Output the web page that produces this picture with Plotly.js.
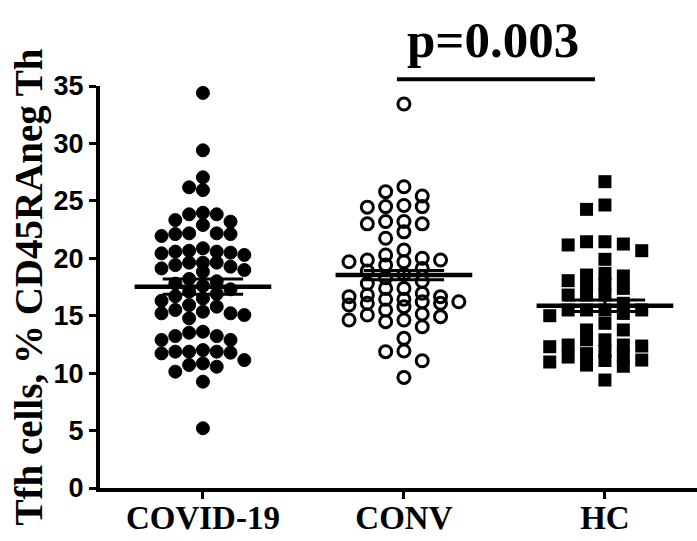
<!DOCTYPE html>
<html>
<head>
<meta charset="utf-8">
<script src="https://cdn.plot.ly/plotly-3.0.1.min.js"></script>
<style>html,body{margin:0;padding:0;background:#fff;}#chart{width:697px;height:541px;}</style>
</head>
<body>
<div id="chart"></div>
<script>
// ---- data ----
const categories = ['COVID-19', 'CONV', 'HC'];
const covidValues = [34.4, 29.4, 27.05, 26.18, 25.94,
  23.83, 23.33, 23.19, 23.83, 23.97, 22.9,
  22.17, 22.11, 21.94, 22.11, 22.17,
  20.66, 20.49, 20.43, 20.29, 20.58, 20.58, 20.87,
  19.62, 19.27, 19.62, 19.62, 19.41,
  19.12, 18.83, 18.98,
  18.2, 18.0, 17.8, 17.6, 17.3, 17.1, 16.9, 16.7, 16.5, 16.3,
  15.93, 15.79, 15.5, 15.35, 15.21, 15.21, 15.06, 14.77,
  13.61, 13.52, 13.23, 13.23, 12.89, 12.89,
  11.87, 11.87, 11.87, 12.01, 11.78, 11.72, 11.14,
  10.85, 10.71, 10.56, 10.13, 9.26, 5.2];
const convValues = [33.43, 26.23, 25.8, 25.42, 24.6, 24.5, 24.5, 24.45,
  23.2, 23.0, 23.0, 23.2, 22.3, 21.74, 20.72, 20.29, 20.0, 19.85, 19.85,
  19.7, 19.7, 19.41, 19.12, 18.9, 18.6, 18.3, 18.0, 17.8, 17.38, 17.38,
  16.95, 16.8, 16.66, 16.66, 16.43, 16.43, 16.22, 16.22, 16.08, 16.08,
  15.93, 15.79, 15.5, 15.15, 15.06, 14.92, 14.63, 14.63, 14.48, 14.04,
  13.03, 11.93, 11.87, 11.08, 9.63];
const hcValues = [26.67, 24.64, 24.26, 21.44, 21.24, 20.66, 21.16, 21.44,
  19.91, 18.05, 17.59, 18.46, 18.54, 18.69, 17.38, 17.76, 16.08,
  16.8, 16.8, 16.8, 15.5, 15.5, 15.5, 15.5, 15.0, 15.2, 14.34,
  13.76, 13.76, 12.45, 12.3, 12.36, 12.9, 11.7, 11.1, 11.4, 10.6,
  12.9, 12.45, 11.14, 11.5, 10.7, 11.9, 10.97, 9.4];
const groupMeans = [17.53, 18.54, 15.87];
const groupSems = [0.66, 0.4, 0.5];
const yTickVals = [0, 5, 10, 15, 20, 25, 30, 35];
const pValueText = 'p=0.003';

// ---- layout constants ----
const W = 697, H = 541;
const M = {l: 100, r: 0, t: 86, b: 53};
const xRange = [-0.512, 2.458];
const yRange = [0, 35];
const plotW = W - M.l - M.r, plotH = H - M.t - M.b;
const pxPerX = plotW / (xRange[1] - xRange[0]);
const pxPerY = plotH / (yRange[1] - yRange[0]);

// column-scatter layout (GraphPad-like), computed from the values
function swarm(vals, center, colPx, thrPx, maxCol) {
  const order = vals.map((v, i) => i).sort((a, b) => vals[b] - vals[a]);
  const cols = {};
  const xs = new Array(vals.length);
  for (const i of order) {
    const ypx = vals[i] * pxPerY;
    let best = null, bestGap = -1;
    for (let k = 0; k <= 2 * maxCol; k++) {
      const c = k === 0 ? 0 : (k % 2 ? -Math.ceil(k / 2) : Math.ceil(k / 2));
      const list = cols[c] || [];
      const gap = list.length ? Math.min(...list.map(y => Math.abs(y - ypx))) : Infinity;
      if (gap >= thrPx) { best = c; break; }
      if (gap > bestGap) { bestGap = gap; best = c; }
    }
    (cols[best] || (cols[best] = [])).push(ypx);
    xs[i] = center + best * colPx / pxPerX;
  }
  return xs;
}

const groups = [
  {vals: covidValues, symbol: 'circle', size: 13, line: 1, colPx: 13.8, thr: 12, maxCol: 3},
  {vals: convValues, symbol: 'circle-open', size: 12, line: 3, colPx: 18.3, thr: 10, maxCol: 3},
  {vals: hcValues, symbol: 'square', size: 13, line: 0, colPx: 18.4, thr: 9, maxCol: 3}
];

const traces = [];
groups.forEach((g, gi) => {
  traces.push({
    type: 'scatter', mode: 'markers',
    x: swarm(g.vals, gi, g.colPx, g.thr, g.maxCol), y: g.vals,
    marker: {symbol: g.symbol, size: g.size, color: '#000',
             line: {color: '#000', width: g.line}},
    hoverinfo: 'y', showlegend: false, cliponaxis: false
  });
});
groupMeans.forEach((m, gi) => {
  const s = groupSems[gi];
  traces.push({type: 'scatter', mode: 'lines', x: [gi - 0.34, gi + 0.34], y: [m, m],
    line: {color: '#000', width: 4.5}, showlegend: false, hoverinfo: 'skip'});
  traces.push({type: 'scatter', mode: 'lines',
    x: [gi - 0.2, gi + 0.2, null, gi - 0.2, gi + 0.2, null, gi, gi],
    y: [m + s, m + s, null, m - s, m - s, null, m - s, m + s],
    line: {color: '#000', width: 3}, showlegend: false, hoverinfo: 'skip'});
});

const layout = {
  width: W, height: H, margin: M,
  paper_bgcolor: '#fff', plot_bgcolor: '#fff',
  showlegend: false,
  xaxis: {
    range: xRange, tickmode: 'array', tickvals: [0, 1, 2], ticktext: categories,
    showline: true, linecolor: '#000', linewidth: 4, showgrid: false, zeroline: false,
    ticks: 'outside', ticklen: 7, tickwidth: 3, tickcolor: '#000', ticklabelstandoff: -10,
    tickfont: {family: 'Liberation Serif', size: 33, color: '#000', weight: 'bold'}
  },
  yaxis: {
    range: yRange, tickmode: 'array', tickvals: yTickVals,
    showline: true, linecolor: '#000', linewidth: 4, showgrid: false, zeroline: false,
    ticks: 'outside', ticklen: 7, tickwidth: 3, tickcolor: '#000',
    tickfont: {family: 'Liberation Sans', size: 27, color: '#000', weight: 'bold'},
    title: {text: 'Tfh cells, % CD45RAneg Th', standoff: 0,
            font: {family: 'Liberation Serif', size: 39, color: '#000', weight: 'bold'}}
  },
  shapes: [{type: 'line', xref: 'x', yref: 'paper', x0: 0.965, x1: 1.95,
            y0: 1.017, y1: 1.017, line: {color: '#000', width: 4}}],
  annotations: [{text: pValueText, xref: 'x', yref: 'paper', x: 1.443, y: 1.114,
    xanchor: 'center', yanchor: 'middle', showarrow: false,
    font: {family: 'Liberation Serif', size: 51, color: '#000', weight: 'bold'}}]
};

Plotly.newPlot('chart', traces, layout, {displayModeBar: false, staticPlot: true});
</script>
</body>
</html>
